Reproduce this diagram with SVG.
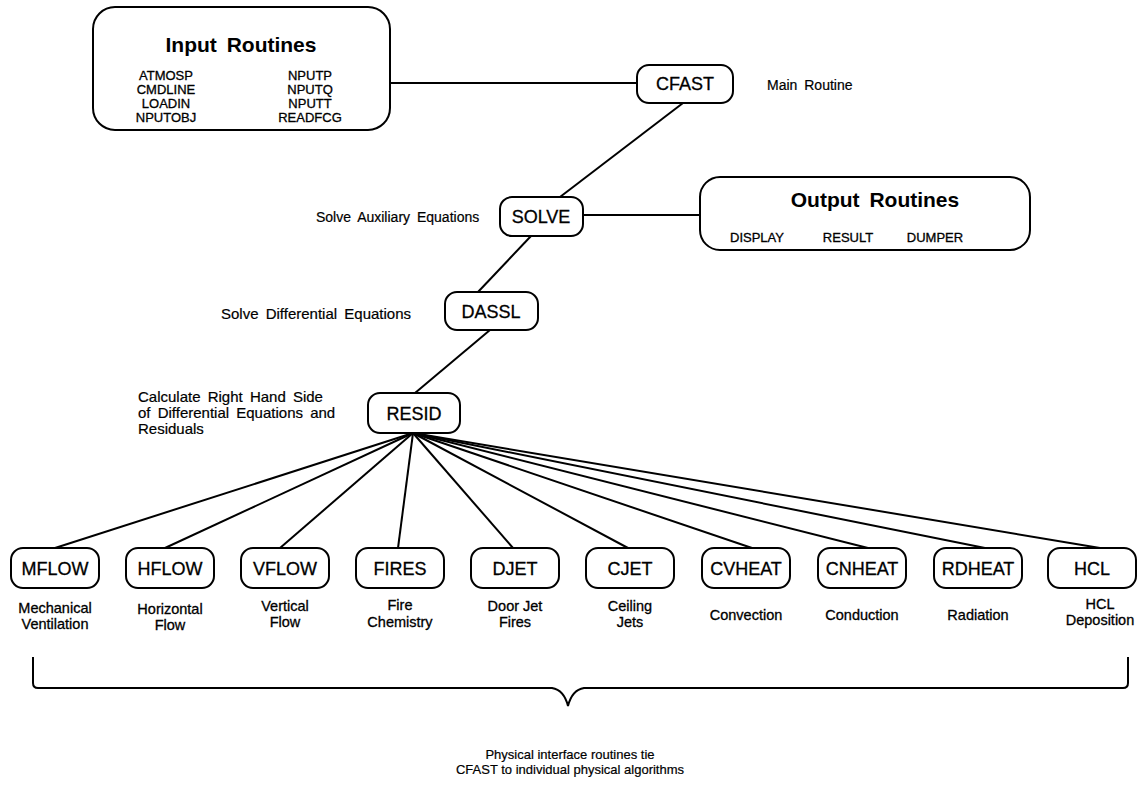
<svg xmlns="http://www.w3.org/2000/svg" width="1139" height="788" viewBox="0 0 1139 788">
<style>
text{font-family:"Liberation Sans",Arial,sans-serif;fill:#000}
.box{fill:#fff;stroke:#000;stroke-width:2}
.ln{stroke:#000;stroke-width:2;fill:none}
.title{font-size:21px;font-weight:bold;text-anchor:middle;word-spacing:4px}
.item{font-size:13px;text-anchor:middle;stroke:#000;stroke-width:0.3}
.name{font-size:18px;text-anchor:middle;stroke:#000;stroke-width:0.3}
.desc{font-size:14.5px;text-anchor:middle;stroke:#000;stroke-width:0.3}
.note{font-size:14px;word-spacing:3px;stroke:#000;stroke-width:0.2}
.big{font-size:15px}
</style>
<rect width="1139" height="788" fill="#fff"/>
<g id="connectors">
<line class="ln" x1="390" y1="83" x2="637" y2="83"/>
<line class="ln" x1="683" y1="103" x2="560" y2="197"/>
<line class="ln" x1="583" y1="215" x2="700" y2="215"/>
<line class="ln" x1="531" y1="236" x2="478" y2="292"/>
<line class="ln" x1="490" y1="330" x2="415" y2="393"/>
<g class="ln">
<line x1="413" y1="433" x2="55" y2="548"/>
<line x1="413" y1="433" x2="165" y2="548"/>
<line x1="413" y1="433" x2="280" y2="548"/>
<line x1="413" y1="433" x2="398" y2="548"/>
<line x1="413" y1="433" x2="513" y2="548"/>
<line x1="413" y1="433" x2="628" y2="548"/>
<line x1="413" y1="433" x2="752" y2="548"/>
<line x1="413" y1="433" x2="868" y2="548"/>
<line x1="413" y1="433" x2="985" y2="548"/>
<line x1="413" y1="433" x2="1100" y2="548"/>
</g>
</g>
<g id="input">
<rect class="box" x="93" y="7" width="297" height="123" rx="22"/>
<text class="title" x="241" y="52">Input Routines</text>
<text class="item" x="166" y="80">ATMOSP</text>
<text class="item" x="166" y="94">CMDLINE</text>
<text class="item" x="166" y="108">LOADIN</text>
<text class="item" x="166" y="122">NPUTOBJ</text>
<text class="item" x="310" y="80">NPUTP</text>
<text class="item" x="310" y="94">NPUTQ</text>
<text class="item" x="310" y="108">NPUTT</text>
<text class="item" x="310" y="122">READFCG</text>
</g>
<g id="cfast">
<rect class="box" x="637" y="65" width="96" height="38" rx="12"/>
<text class="name" x="685" y="90">CFAST</text>
<text class="note" x="767" y="90">Main Routine</text>
</g>
<g id="solve">
<rect class="box" x="500" y="197" width="83" height="39" rx="12"/>
<text class="name" x="541" y="223">SOLVE</text>
<text class="note" x="316" y="222">Solve Auxiliary Equations</text>
</g>
<g id="output">
<rect class="box" x="700" y="177" width="330" height="73" rx="20"/>
<text class="title" x="875" y="207">Output Routines</text>
<text class="item" x="757" y="242">DISPLAY</text>
<text class="item" x="848" y="242">RESULT</text>
<text class="item" x="935" y="242">DUMPER</text>
</g>
<g id="dassl">
<rect class="box" x="445" y="292" width="93" height="38" rx="12"/>
<text class="name" x="491" y="318">DASSL</text>
<text class="note big" x="221" y="319">Solve Differential Equations</text>
</g>
<g id="resid">
<rect class="box" x="368" y="393" width="92" height="40" rx="12"/>
<text class="name" x="414" y="420">RESID</text>
<text class="note big" x="138" y="402">Calculate Right Hand Side</text>
<text class="note big" x="138" y="418">of Differential Equations and</text>
<text class="note big" x="138" y="434">Residuals</text>
</g>
<g id="mflow">
<rect class="box" x="11" y="548" width="88" height="40" rx="12"/>
<text class="name" x="55" y="575">MFLOW</text>
<text class="desc" x="55" y="613">Mechanical</text>
<text class="desc" x="55" y="629">Ventilation</text>
</g>
<g id="hflow">
<rect class="box" x="126" y="548" width="88" height="40" rx="12"/>
<text class="name" x="170" y="575">HFLOW</text>
<text class="desc" x="170" y="614">Horizontal</text>
<text class="desc" x="170" y="630">Flow</text>
</g>
<g id="vflow">
<rect class="box" x="241" y="548" width="88" height="40" rx="12"/>
<text class="name" x="285" y="575">VFLOW</text>
<text class="desc" x="285" y="611">Vertical</text>
<text class="desc" x="285" y="627">Flow</text>
</g>
<g id="fires">
<rect class="box" x="356" y="548" width="88" height="40" rx="12"/>
<text class="name" x="400" y="575">FIRES</text>
<text class="desc" x="400" y="610">Fire</text>
<text class="desc" x="400" y="627">Chemistry</text>
</g>
<g id="djet">
<rect class="box" x="471" y="548" width="88" height="40" rx="12"/>
<text class="name" x="515" y="575">DJET</text>
<text class="desc" x="515" y="611">Door Jet</text>
<text class="desc" x="515" y="627">Fires</text>
</g>
<g id="cjet">
<rect class="box" x="586" y="548" width="88" height="40" rx="12"/>
<text class="name" x="630" y="575">CJET</text>
<text class="desc" x="630" y="611">Ceiling</text>
<text class="desc" x="630" y="627">Jets</text>
</g>
<g id="cvheat">
<rect class="box" x="702" y="548" width="88" height="40" rx="12"/>
<text class="name" x="746" y="575">CVHEAT</text>
<text class="desc" x="746" y="620">Convection</text>
</g>
<g id="cnheat">
<rect class="box" x="818" y="548" width="88" height="40" rx="12"/>
<text class="name" x="862" y="575">CNHEAT</text>
<text class="desc" x="862" y="620">Conduction</text>
</g>
<g id="rdheat">
<rect class="box" x="934" y="548" width="88" height="40" rx="12"/>
<text class="name" x="978" y="575">RDHEAT</text>
<text class="desc" x="978" y="620">Radiation</text>
</g>
<g id="hcl">
<rect class="box" x="1048" y="548" width="88" height="40" rx="12"/>
<text class="name" x="1092" y="575">HCL</text>
<text class="desc" x="1100" y="609">HCL</text>
<text class="desc" x="1100" y="625">Deposition</text>
</g>
<g id="bracket">
<path class="ln" d="M33 657 V683 Q33 688 38 688 H552 Q564 690 568 706 Q572 690 584 688 H1123 Q1128 688 1128 683 V657"/>
<text class="desc" x="570" y="759" style="font-size:13px;stroke-width:0.2">Physical interface routines tie</text>
<text class="desc" x="570" y="774" style="font-size:13px;stroke-width:0.2">CFAST to individual physical algorithms</text>
</g>
</svg>
